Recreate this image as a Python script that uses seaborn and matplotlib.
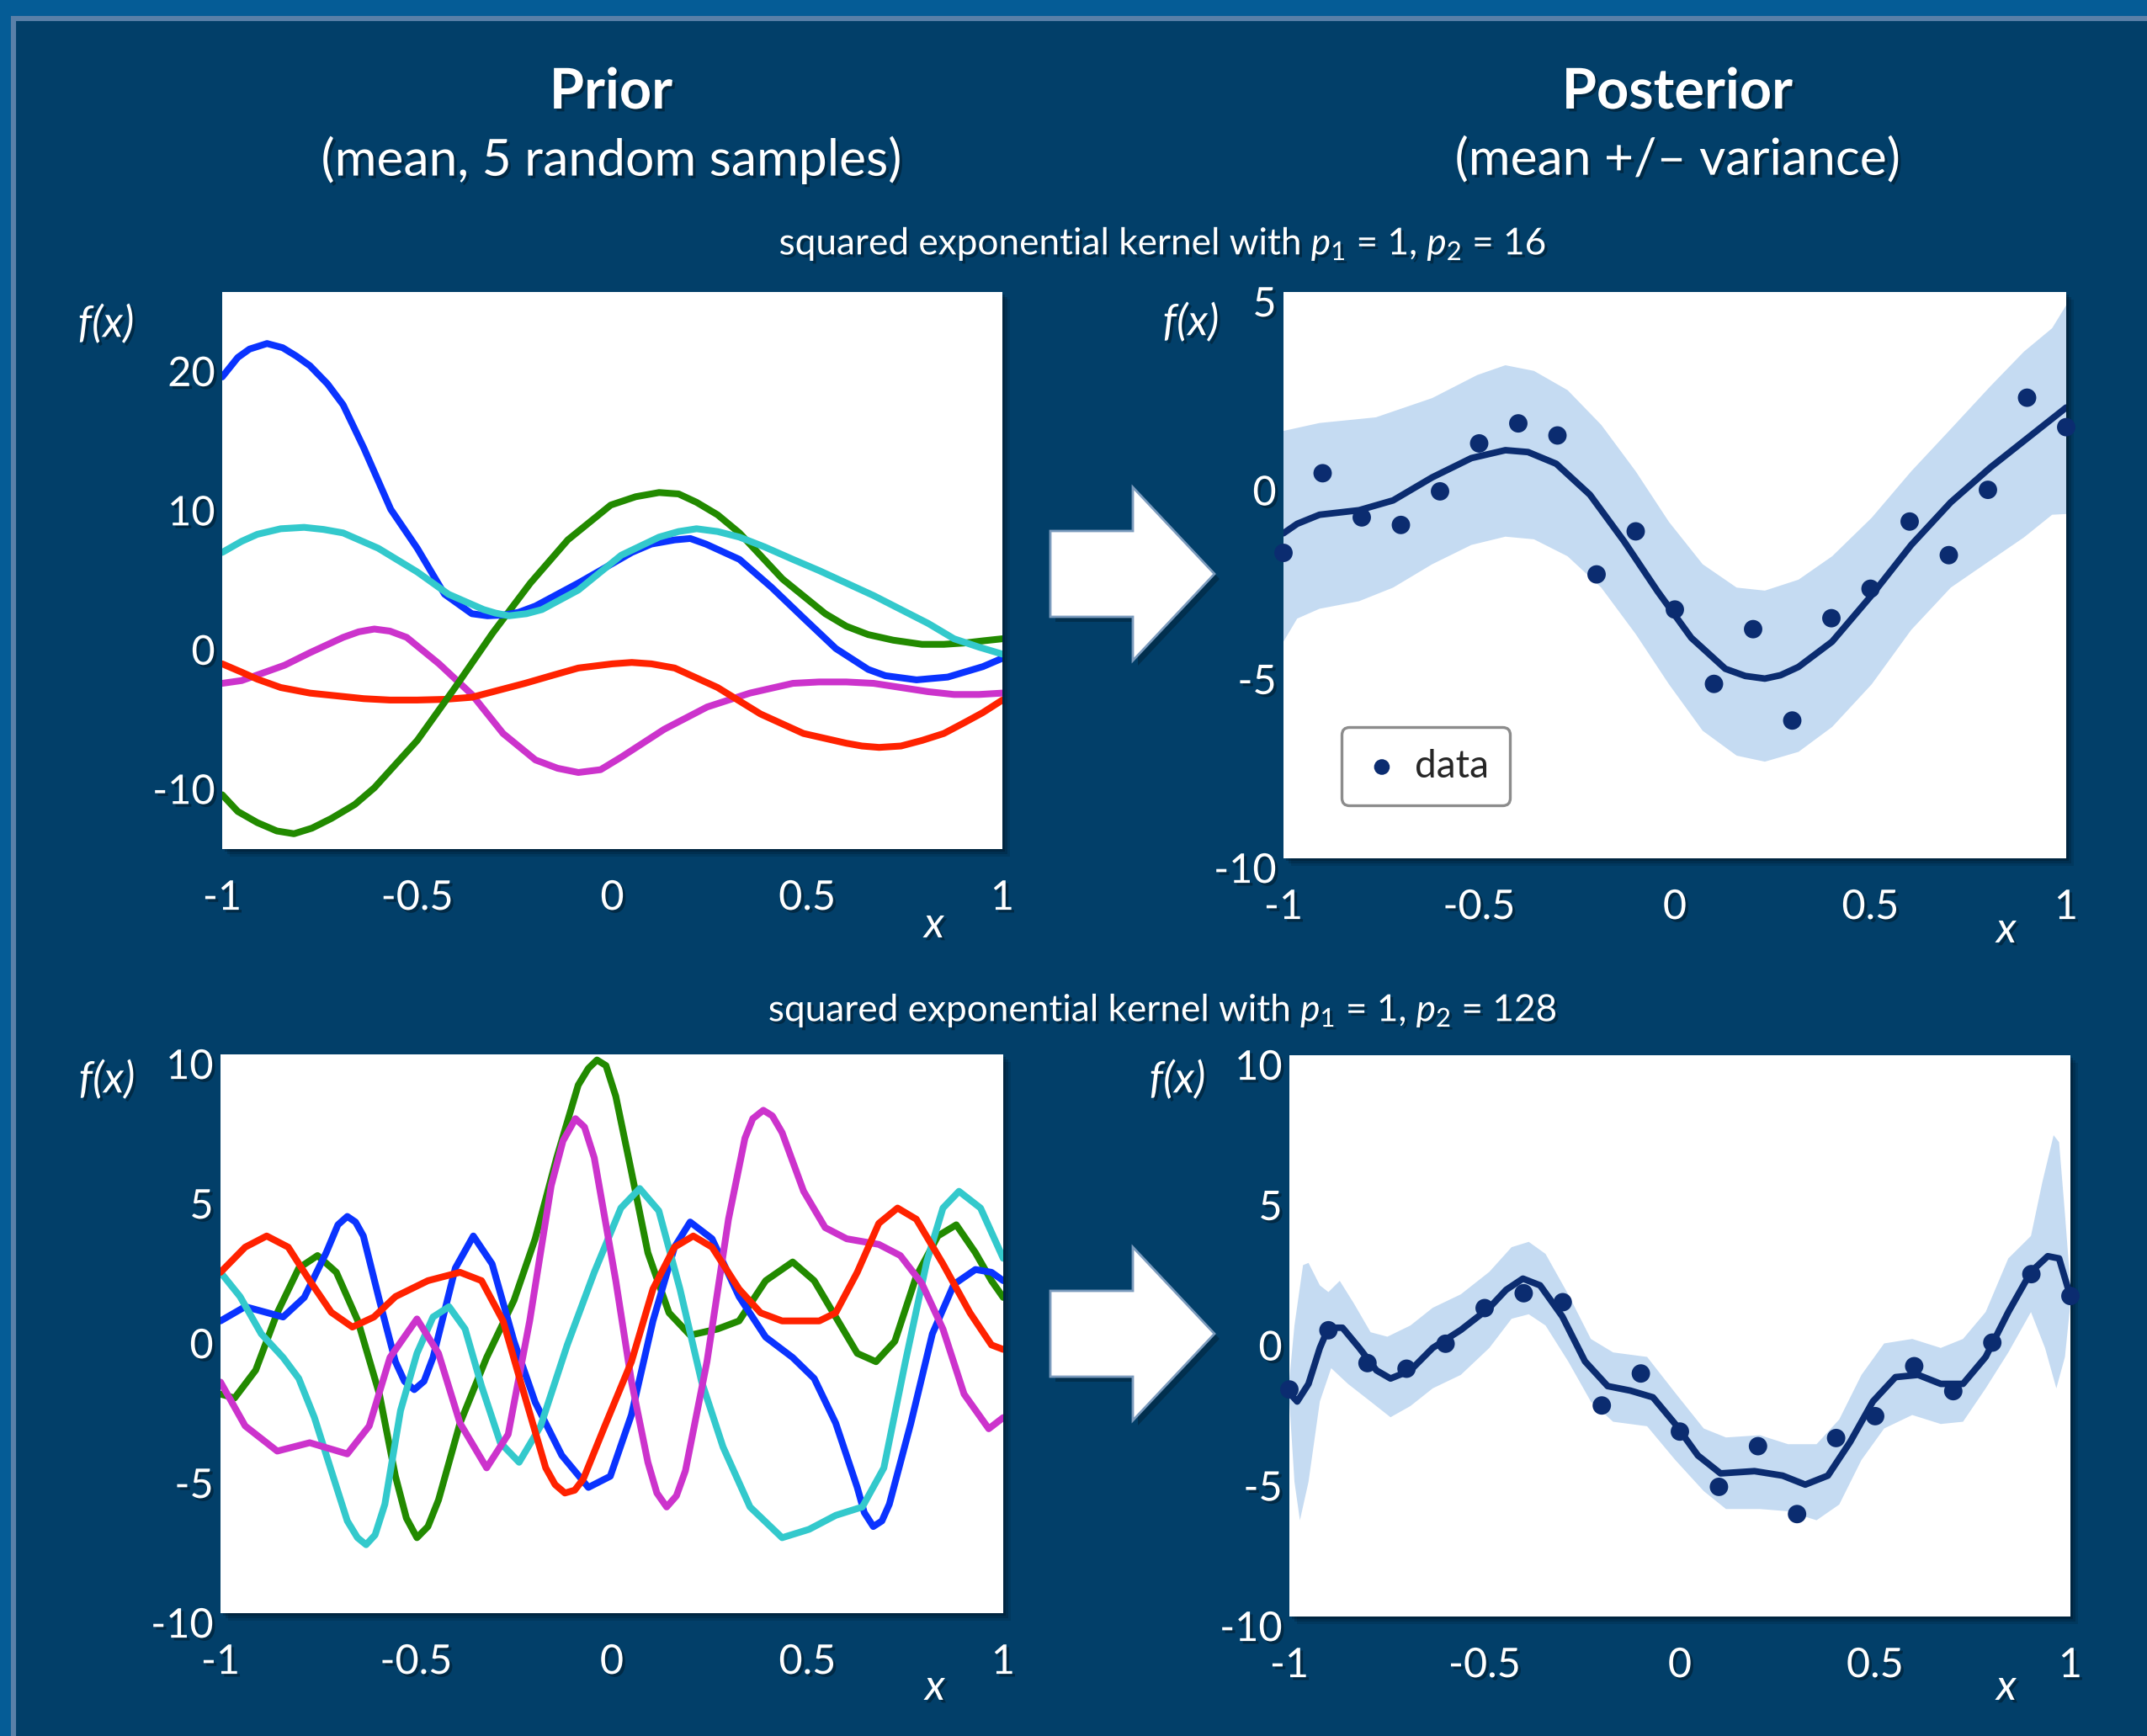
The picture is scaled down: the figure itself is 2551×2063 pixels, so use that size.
import matplotlib
matplotlib.use("Agg")  # headless rendering
import matplotlib.pyplot as plt
import matplotlib.patheffects as pe
from matplotlib.patches import Rectangle, Polygon
from matplotlib.transforms import ScaledTranslation
import seaborn as sns
import pandas as pd

# ---------------------------------------------------------------- data
# observed points (same set in both posterior panels)
data_x = [-1.0, -0.9, -0.8, -0.7, -0.6, -0.5, -0.4, -0.3, -0.2, -0.1, 0.0,
          0.1, 0.2, 0.3, 0.4, 0.5, 0.6, 0.7, 0.8, 0.9, 1.0]
data_y = [-1.91, 0.2, -0.97, -1.17, -0.28, 0.99, 1.52, 1.2, -2.48, -1.34, -3.41,
          -5.38, -3.93, -6.35, -3.64, -2.86, -1.08, -1.97, -0.24, 2.2, 1.42]

# prior samples, p2 = 16
p16_blue_x = [-1.0, -0.96, -0.93, -0.885, -0.845, -0.81, -0.775, -0.73, -0.69, -0.637, -0.568,
              -0.5, -0.43, -0.36, -0.32, -0.28, -0.24, -0.197, -0.087, 0.05, 0.1, 0.16, 0.2,
              0.24, 0.326, 0.408, 0.49, 0.573, 0.656, 0.7, 0.78, 0.86, 0.95, 1.0]
p16_blue_y = [18.9, 20.3, 20.9, 21.3, 21.0, 20.4, 19.7, 18.4, 16.9, 13.8, 9.4,
              6.6, 3.3, 1.9, 1.75, 1.8, 2.0, 2.45, 4.1, 6.3, 6.9, 7.2, 7.3,
              6.9, 5.8, 3.8, 1.6, -0.6, -2.1, -2.55, -2.85, -2.65, -1.9, -1.3]
p16_cyan_x = [-1.0, -0.95, -0.91, -0.85, -0.79, -0.74, -0.69, -0.6, -0.5, -0.42, -0.33, -0.3,
              -0.265, -0.22, -0.18, -0.087, 0.023, 0.12, 0.17, 0.216, 0.27, 0.326, 0.39, 0.463,
              0.53, 0.6, 0.67, 0.74, 0.81, 0.876, 0.94, 1.0]
p16_cyan_y = [6.3, 7.1, 7.6, 8.0, 8.1, 7.95, 7.7, 6.6, 4.9, 3.3, 2.2, 1.95,
              1.75, 1.9, 2.2, 3.6, 6.1, 7.4, 7.8, 8.0, 7.8, 7.4, 6.7, 5.8,
              5.0, 4.1, 3.2, 2.2, 1.2, 0.1, -0.5, -1.0]
p16_green_x = [-1.0, -0.96, -0.91, -0.86, -0.816, -0.77, -0.72, -0.66, -0.61, -0.5, -0.403,
               -0.307, -0.21, -0.114, -0.004, 0.06, 0.12, 0.17, 0.216, 0.27, 0.326, 0.436,
               0.546, 0.6, 0.656, 0.72, 0.794, 0.85, 0.904, 0.95, 1.0]
p16_green_y = [-11.1, -12.3, -13.1, -13.7, -13.9, -13.5, -12.8, -11.8, -10.6, -7.2, -3.4,
               0.5, 4.1, 7.2, 9.7, 10.3, 10.6, 10.5, 9.9, 9.0, 7.7, 4.4,
               1.9, 1.0, 0.4, 0.0, -0.3, -0.3, -0.2, -0.05, 0.1]
p16_red_x = [-1.0, -0.95, -0.91, -0.85, -0.775, -0.637, -0.57, -0.5, -0.43, -0.36, -0.224,
             -0.15, -0.087, 0.0, 0.05, 0.1, 0.16, 0.27, 0.38, 0.49, 0.6, 0.64, 0.684, 0.74,
             0.794, 0.85, 0.904, 0.95, 1.0]
p16_red_y = [-1.7, -2.3, -2.8, -3.4, -3.8, -4.2, -4.3, -4.3, -4.25, -4.1, -3.1,
             -2.5, -2.0, -1.7, -1.6, -1.7, -2.0, -3.4, -5.3, -6.7, -7.4, -7.6, -7.7, -7.6,
             -7.2, -6.7, -5.9, -5.2, -4.3]
p16_magenta_x = [-1.0, -0.95, -0.91, -0.84, -0.775, -0.69, -0.65, -0.61, -0.57, -0.527, -0.444,
                 -0.36, -0.28, -0.197, -0.14, -0.087, -0.03, 0.023, 0.133, 0.243, 0.353, 0.463,
                 0.53, 0.6, 0.67, 0.74, 0.81, 0.876, 0.94, 1.0]
p16_magenta_y = [-3.1, -2.9, -2.5, -1.8, -0.9, 0.2, 0.6, 0.8, 0.65, 0.2, -1.7,
                 -3.9, -6.7, -8.6, -9.2, -9.5, -9.3, -8.4, -6.4, -4.8, -3.8, -3.1,
                 -3.0, -3.0, -3.1, -3.4, -3.7, -3.9, -3.9, -3.8]

# prior samples, p2 = 128
p128_blue_x = [-1.0, -0.937, -0.84, -0.786, -0.73, -0.7, -0.676, -0.655, -0.635, -0.594, -0.553,
               -0.53, -0.505, -0.48, -0.457, -0.4, -0.354, -0.306, -0.25, -0.196, -0.128, -0.06,
               -0.004, 0.05, 0.105, 0.16, 0.2, 0.256, 0.325, 0.393, 0.462, 0.517, 0.572, 0.627,
               0.645, 0.668, 0.69, 0.709, 0.764, 0.819, 0.874, 0.929, 0.97, 1.0]
p128_blue_y = [0.46, 0.97, 0.6, 1.3, 2.9, 3.9, 4.2, 4.0, 3.5, 1.2, -1.0,
               -1.7, -2.0, -1.7, -0.85, 2.35, 3.5, 2.5, -0.27, -2.45, -4.35, -5.5,
               -5.1, -2.9, 0.46, 3.1, 4.0, 3.4, 1.33, -0.12, -0.85, -1.6, -3.2, -5.5,
               -6.4, -6.9, -6.7, -6.1, -3.2, 0.0, 1.77, 2.3, 2.2, 1.9]
p128_red_x = [-1.0, -0.937, -0.882, -0.827, -0.772, -0.717, -0.663, -0.608, -0.553, -0.47, -0.388,
              -0.333, -0.278, -0.224, -0.169, -0.145, -0.12, -0.095, -0.073, -0.018, 0.05, 0.105,
              0.16, 0.208, 0.256, 0.325, 0.38, 0.435, 0.53, 0.572, 0.627, 0.682, 0.73, 0.778,
              0.846, 0.915, 0.97, 1.0]
p128_red_y = [2.2, 3.1, 3.5, 3.1, 1.9, 0.77, 0.24, 0.6, 1.33, 1.9, 2.2,
              1.9, 0.46, -2.16, -4.8, -5.4, -5.7, -5.6, -5.2, -3.3, -1.0, 1.6,
              3.1, 3.5, 3.1, 1.6, 0.75, 0.46, 0.46, 0.75, 2.2, 3.95, 4.5, 4.1,
              2.5, 0.75, -0.4, -0.56]
p128_green_x = [-1.0, -0.964, -0.91, -0.855, -0.8, -0.752, -0.704, -0.649, -0.594, -0.553, -0.525,
                -0.498, -0.47, -0.443, -0.388, -0.32, -0.25, -0.196, -0.141, -0.086, -0.06, -0.038,
                -0.015, 0.01, 0.05, 0.092, 0.146, 0.2, 0.27, 0.325, 0.393, 0.462, 0.517, 0.572,
                0.627, 0.675, 0.723, 0.778, 0.833, 0.88, 0.929, 0.97, 1.0]
p128_green_y = [-2.16, -2.3, -1.3, 0.75, 2.35, 2.8, 2.2, 0.46, -2.16, -5.1, -6.6,
                -7.3, -6.9, -5.95, -3.2, -0.85, 1.2, 3.4, 6.3, 8.9, 9.5, 9.8,
                9.6, 8.5, 5.8, 2.9, 0.75, -0.05, 0.17, 0.46, 1.9, 2.57, 1.9, 0.6,
                -0.7, -1.0, -0.27, 2.06, 3.5, 3.9, 2.9, 1.9, 1.3]
p128_magenta_x = [-1.0, -0.937, -0.855, -0.772, -0.676, -0.62, -0.567, -0.498, -0.443, -0.388, -0.32,
                  -0.265, -0.21, -0.155, -0.125, -0.093, -0.07, -0.045, 0.01, 0.05, 0.092, 0.115,
                  0.14, 0.165, 0.188, 0.243, 0.298, 0.34, 0.36, 0.387, 0.41, 0.435, 0.49, 0.545,
                  0.6, 0.682, 0.737, 0.792, 0.846, 0.9, 0.963, 1.0]
p128_magenta_y = [-1.73, -3.3, -4.2, -3.9, -4.3, -3.3, -0.85, 0.53, -0.7, -3.2, -4.8,
                  -3.6, 0.46, 5.3, 6.9, 7.7, 7.4, 6.3, 1.9, -1.7, -4.6, -5.7,
                  -6.2, -5.8, -4.9, -1.0, 4.1, 7.0, 7.7, 8.0, 7.8, 7.2, 5.1, 3.8,
                  3.4, 3.2, 2.8, 1.8, 0.17, -2.16, -3.4, -3.0]
p128_cyan_x = [-1.0, -0.95, -0.896, -0.84, -0.8, -0.76, -0.717, -0.676, -0.65, -0.628, -0.605,
               -0.58, -0.54, -0.498, -0.457, -0.416, -0.375, -0.333, -0.285, -0.237, -0.182, -0.114,
               -0.045, 0.023, 0.071, 0.12, 0.174, 0.229, 0.284, 0.353, 0.435, 0.504, 0.572, 0.64,
               0.695, 0.75, 0.805, 0.846, 0.887, 0.942, 1.0]
p128_cyan_y = [2.2, 1.33, 0.0, -0.85, -1.6, -3.0, -4.9, -6.7, -7.3, -7.55, -7.2,
               -6.1, -2.75, -0.7, 0.6, 0.97, 0.17, -1.87, -3.9, -4.6, -3.3, -0.4,
               2.2, 4.5, 5.2, 4.4, 1.6, -1.7, -4.05, -6.2, -7.3, -7.0, -6.5, -6.2,
               -4.8, -1.0, 2.6, 4.5, 5.1, 4.5, 2.7]

# posterior, p2 = 16
post16_mean_x = [-1.0, -0.965, -0.908, -0.807, -0.72, -0.62, -0.52, -0.433, -0.375, -0.303, -0.217,
                 -0.13, -0.044, 0.042, 0.129, 0.18, 0.23, 0.27, 0.316, 0.402, 0.503, 0.604, 0.705,
                 0.806, 0.906, 1.0]
post16_mean_y = [-1.39, -1.14, -0.9, -0.78, -0.52, 0.09, 0.6, 0.81, 0.76, 0.45, -0.37,
                 -1.6, -2.93, -4.16, -4.98, -5.17, -5.24, -5.15, -4.93, -4.26, -3.03, -1.7, -0.57,
                 0.35, 1.17, 1.94]
post16_upper_x = [-1.0, -0.908, -0.764, -0.62, -0.505, -0.433, -0.36, -0.274, -0.188, -0.1, -0.015,
                  0.071, 0.158, 0.23, 0.316, 0.402, 0.503, 0.604, 0.705, 0.806, 0.892, 0.964, 1.0]
post16_upper_y = [1.32, 1.53, 1.68, 2.19, 2.8, 3.06, 2.91, 2.4, 1.48, 0.25, -1.09,
                  -2.21, -2.83, -2.91, -2.62, -2.0, -0.98, 0.25, 1.37, 2.5, 3.42, 4.04, 4.65]
post16_lower_x = [-1.0, -0.965, -0.908, -0.807, -0.72, -0.62, -0.52, -0.433, -0.36, -0.274, -0.188,
                  -0.1, -0.015, 0.071, 0.158, 0.23, 0.316, 0.402, 0.503, 0.604, 0.705, 0.806,
                  0.892, 0.964, 1.0]
post16_lower_y = [-4.26, -3.65, -3.39, -3.19, -2.83, -2.21, -1.7, -1.48, -1.55, -2.0, -2.83,
                  -4.06, -5.39, -6.62, -7.28, -7.44, -7.18, -6.52, -5.39, -3.95, -2.83, -2.11,
                  -1.5, -0.9, -0.88]

# posterior, p2 = 128
post128_mean_x = [-1.0, -0.98, -0.951, -0.922, -0.9, -0.864, -0.821, -0.777, -0.741, -0.69, -0.633,
                  -0.561, -0.488, -0.445, -0.402, -0.358, -0.301, -0.243, -0.185, -0.127, -0.069,
                  -0.012, 0.046, 0.104, 0.191, 0.263, 0.321, 0.379, 0.436, 0.494, 0.552, 0.61,
                  0.668, 0.725, 0.783, 0.841, 0.899, 0.942, 0.971, 1.0]
post128_mean_y = [-2.03, -2.34, -1.71, -0.43, 0.29, 0.29, -0.43, -1.23, -1.52, -1.23, -0.43,
                  0.21, 1.0, 1.64, 2.04, 1.8, 0.69, -0.91, -1.79, -1.95, -2.19,
                  -3.14, -4.26, -4.9, -4.82, -4.98, -5.3, -4.98, -3.78, -2.34, -1.47, -1.39,
                  -1.71, -1.71, -0.75, 0.85, 2.28, 2.84, 2.76, 1.4]
post128_upper_x = [-1.0, -0.987, -0.965, -0.951, -0.922, -0.9, -0.871, -0.835, -0.792, -0.749, -0.69,
                   -0.633, -0.561, -0.488, -0.431, -0.387, -0.344, -0.286, -0.228, -0.171, -0.084,
                   -0.012, 0.061, 0.118, 0.205, 0.277, 0.35, 0.408, 0.465, 0.523, 0.595, 0.668,
                   0.725, 0.783, 0.841, 0.899, 0.928, 0.957, 0.971, 0.986, 1.0]
post128_upper_y = [-1.55, 0.37, 2.52, 2.6, 1.8, 1.56, 1.96, 1.16, 0.13, -0.03, 0.37,
                   1.0, 1.48, 2.28, 3.16, 3.35, 2.92, 1.48, -0.11, -0.59, -0.75,
                   -2.03, -3.3, -3.62, -3.54, -3.86, -3.86, -2.98, -1.39, -0.27, -0.11, -0.43,
                   -0.11, 0.85, 2.76, 3.56, 5.47, 7.15, 6.9, 4.35, 1.8]
post128_lower_x = [-1.0, -0.987, -0.973, -0.951, -0.922, -0.893, -0.85, -0.792, -0.741, -0.69, -0.633,
                   -0.561, -0.488, -0.431, -0.387, -0.344, -0.286, -0.228, -0.171, -0.084, -0.012,
                   0.061, 0.118, 0.205, 0.277, 0.35, 0.408, 0.465, 0.523, 0.595, 0.668, 0.725,
                   0.783, 0.841, 0.899, 0.935, 0.964, 0.986, 1.0]
post128_lower_y = [-2.34, -5.2, -6.57, -5.2, -2.34, -1.15, -1.71, -2.34, -2.9, -2.5, -1.87,
                   -1.39, -0.43, 0.61, 0.77, 0.37, -0.91, -2.34, -3.06, -3.22, -4.42,
                   -5.53, -6.17, -6.17, -6.25, -6.57, -6.01, -4.42, -3.3, -2.82, -3.14, -3.06,
                   -1.87, -0.59, 0.85, -0.43, -1.87, -0.75, 1.16]

x_ticks = [-1, -0.5, 0, 0.5, 1]
x_ticklabels = ["-1", "-0.5", "0", "0.5", "1"]

# ---------------------------------------------------------------- style
W, H, DPI = 2551, 2063, 200
BG_OUTER = "#055c96"
BG_LINE = "#5a80a8"
BG_INNER = "#023f69"
SAMPLE_COLORS = {"blue": "#0a33ff", "cyan": "#33c9cc", "green": "#228a00",
                 "red": "#ff2200", "magenta": "#cc33cc"}
NAVY = "#0b2c70"
BAND = "#c5dbf2"

sns.set_style("white")
plt.rcParams["font.family"] = ["Lato", "DejaVu Sans"]
plt.rcParams["mathtext.fontset"] = "custom"
plt.rcParams["mathtext.rm"] = "Lato"
plt.rcParams["mathtext.it"] = "Lato:italic"

shadow = [pe.withSimplePatchShadow(offset=(1.2, -1.2), shadow_rgbFace="black", alpha=0.35)]

fig = plt.figure(figsize=(W / DPI, H / DPI), dpi=DPI, facecolor=BG_OUTER)


def px(x, y):
    """full-size pixel position -> figure fraction"""
    return x / W, 1 - y / H


# dark inner background with thin light edge
fig.add_artist(Rectangle(px(16, H + 10), (W + 10) / W, (H - 12) / H,
                         transform=fig.transFigure, facecolor=BG_INNER,
                         edgecolor=BG_LINE, linewidth=2.2, zorder=-5))


def make_axes(left, top, right, bottom):
    x0, y1 = px(left, top)
    x1, y0 = px(right, bottom)
    # soft drop shadow behind each panel
    for off, a in [(9, 0.10), (6, 0.15), (3, 0.2)]:
        fig.add_artist(Rectangle((x0 + off / W, y0 - off / H), x1 - x0, y1 - y0,
                                 transform=fig.transFigure, facecolor="black",
                                 edgecolor="none", alpha=a, zorder=-2))
    ax = fig.add_axes([x0, y0, x1 - x0, y1 - y0])
    ax.set_facecolor("white")
    for s in ax.spines.values():
        s.set_visible(False)
    return ax


def style_axes(ax, ylim, yticks):
    ax.set_xlim(-1, 1)
    ax.set_ylim(*ylim)
    ax.set_xticks(x_ticks)
    ax.set_xticklabels(x_ticklabels)
    ax.set_yticks(yticks)
    ax.set_yticklabels([str(t) for t in yticks])
    ax.set_xlabel("")
    ax.set_ylabel("")
    ax.grid(False)
    ax.tick_params(axis="both", length=0, colors="white", labelsize=17.5)
    ax.tick_params(axis="x", pad=13)
    ax.tick_params(axis="y", pad=3)
    for lab in ax.get_xticklabels() + ax.get_yticklabels():
        lab.set_path_effects(shadow)


def draw_prior(ax, curves):
    rows = []
    for name, (xs, ys) in curves.items():
        rows += [{"x": a, "y": b, "sample": name} for a, b in zip(xs, ys)]
    df = pd.DataFrame(rows)
    sns.lineplot(data=df, x="x", y="y", hue="sample", palette=SAMPLE_COLORS,
                 estimator=None, sort=False, linewidth=2.9, legend=False, ax=ax,
                 solid_joinstyle="round", solid_capstyle="round")


def draw_posterior(ax, mx, my, ux, uy, lx, ly, legend=False):
    ax.fill(ux + lx[::-1], uy + ly[::-1], color=BAND, linewidth=0, zorder=1)
    sns.lineplot(x=mx, y=my, color=NAVY, linewidth=2.8, estimator=None,
                 sort=False, ax=ax, zorder=3, solid_joinstyle="round")
    sns.scatterplot(x=data_x, y=data_y, color=NAVY, s=62, edgecolor="none",
                    ax=ax, zorder=4, label="data" if legend else None,
                    clip_on=False, legend=legend)


# ---------------------------------------------------------------- panels
ax_tl = make_axes(264, 347, 1191, 1009)
draw_prior(ax_tl, {"magenta": (p16_magenta_x, p16_magenta_y), "red": (p16_red_x, p16_red_y),
                   "green": (p16_green_x, p16_green_y), "blue": (p16_blue_x, p16_blue_y),
                   "cyan": (p16_cyan_x, p16_cyan_y)})
style_axes(ax_tl, (-15, 25), [-10, 0, 10, 20])

ax_tr = make_axes(1525, 347, 2455, 1020)
draw_posterior(ax_tr, post16_mean_x, post16_mean_y, post16_upper_x, post16_upper_y,
               post16_lower_x, post16_lower_y, legend=True)
style_axes(ax_tr, (-10, 5), [-10, -5, 0, 5])
leg = ax_tr.legend(loc="lower left", bbox_to_anchor=(0.074, 0.094), borderaxespad=0,
                   fontsize=16.5, frameon=True, fancybox=True, edgecolor="#8c8c8c",
                   facecolor="white", framealpha=1, markerscale=0.85, handletextpad=0.35,
                   borderpad=0.55, handlelength=1.0)
leg.get_frame().set_linewidth(1.2)

ax_bl = make_axes(262, 1253, 1192, 1917)
draw_prior(ax_bl, {"green": (p128_green_x, p128_green_y), "blue": (p128_blue_x, p128_blue_y),
                   "cyan": (p128_cyan_x, p128_cyan_y), "magenta": (p128_magenta_x, p128_magenta_y),
                   "red": (p128_red_x, p128_red_y)})
style_axes(ax_bl, (-10, 10), [-10, -5, 0, 5, 10])

ax_br = make_axes(1532, 1254, 2460, 1921)
draw_posterior(ax_br, post128_mean_x, post128_mean_y, post128_upper_x, post128_upper_y,
               post128_lower_x, post128_lower_y)
style_axes(ax_br, (-10, 10), [-10, -5, 0, 5, 10])

# y tick labels sit slightly below their tick position in the original
for ax in (ax_tl, ax_tr, ax_bl, ax_br):
    for lab in ax.get_yticklabels():
        lab.set_transform(lab.get_transform() + ScaledTranslation(0, -4 / 72, fig.dpi_scale_trans))

# ---------------------------------------------------------------- arrows
def arrow(tip_y):
    pts = [(1248, tip_y - 51), (1346, tip_y - 51), (1346, tip_y - 103), (1443, tip_y),
           (1346, tip_y + 103), (1346, tip_y + 51), (1248, tip_y + 51)]
    fig.add_artist(Polygon([px(x + 6, y + 6) for x, y in pts], closed=True,
                           transform=fig.transFigure, facecolor="black", alpha=0.25,
                           edgecolor="none", zorder=1))
    fig.add_artist(Polygon([px(x, y) for x, y in pts], closed=True,
                           transform=fig.transFigure, facecolor="white",
                           edgecolor="#7b9bbd", linewidth=1.0, zorder=2))


arrow(682)
arrow(1585)

# ---------------------------------------------------------------- text
def ftext(x, y, s, **kw):
    t = fig.text(*px(x, y), s, color="white", ha="center", va="center", **kw)
    t.set_path_effects(shadow)
    return t


ftext(726, 110, "Prior", fontsize=24, fontweight="bold")
ftext(726, 190, "(mean, 5 random samples)", fontsize=21.8)
ftext(1993, 110, "Posterior", fontsize=24, fontweight="bold")
ftext(1993, 190, "(mean +/\u2013 variance)", fontsize=21.8)
ftext(1381, 290, r"squared exponential kernel with $p_1$ = 1, $p_2$ = 16", fontsize=15.9)
ftext(1381, 1201, r"squared exponential kernel with $p_1$ = 1, $p_2$ = 128", fontsize=15.9)

for (fx, fy) in [(126, 386), (1415, 384), (127, 1284), (1399, 1284)]:
    ftext(fx, fy, "f(x)", fontsize=18.5, style="italic")
for (lx, ly) in [(1110, 1100), (2384, 1106), (1111, 2006), (2384, 2006)]:
    ftext(lx, ly, "x", fontsize=18.5, style="italic")

fig.savefig("out.png", dpi=DPI, facecolor=fig.get_facecolor())
plt.close(fig)
